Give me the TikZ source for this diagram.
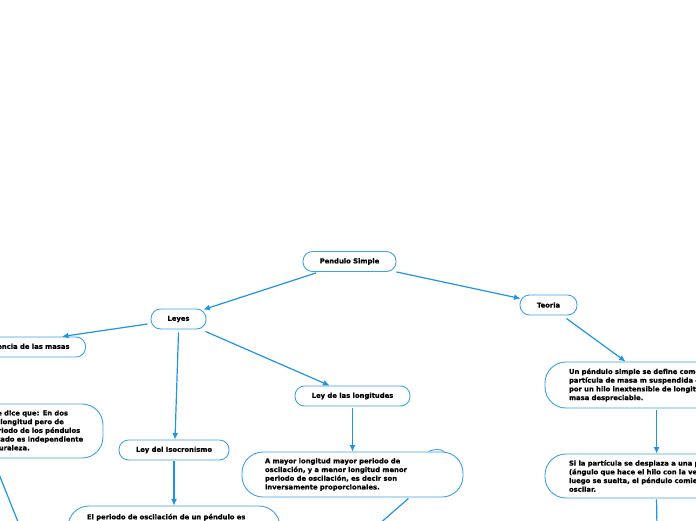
\documentclass[tikz,border=0pt]{standalone}
\usepackage{fontspec}
\setmainfont{DejaVu Sans}[BoldFeatures={FakeBold=0.6}]
\usetikzlibrary{arrows.meta,calc}
\definecolor{lineblue}{RGB}{30,148,228}
\definecolor{boxblue}{RGB}{62,160,232}
\begin{document}
\begin{tikzpicture}[x=1pt,y=-1pt,
  every node/.style={font=\fontsize{6.8}{8.7}\selectfont\bfseries},
  pill/.style={draw=boxblue,line width=0.9pt,rounded corners=9.5pt,fill=white,minimum height=20pt,inner ysep=0pt},
  bigpill/.style={draw=boxblue,line width=0.9pt,rounded corners=21pt,fill=white,align=left,inner ysep=0pt},
  conn/.style={draw=lineblue,line width=1.2pt,-{Latex[length=6.5pt,width=6pt]}},
  plainconn/.style={draw=lineblue,line width=1.2pt}]
\useasboundingbox (0,0) rectangle (696,520);
\clip (0,0) rectangle (696,520);
% small nodes
\node[pill,minimum width=93pt] (pend) at (349.5,261.5) {Pendulo Simple};
\node[pill,minimum width=57pt] (teoria) at (548.5,305) {Teoria};
\node[pill,minimum width=55pt] (leyes) at (178.5,319) {Leyes};
\node[pill,anchor=east,inner xsep=16pt] (masas) at (86,347) {Ley de la independencia de las masas};
\node[pill,minimum width=110pt] (iso) at (174,450) {Ley del Isocronismo};
\node[pill,minimum width=115pt] (longi) at (352.5,396) {Ley de las longitudes};
% big nodes
\node[bigpill,minimum height=45pt,inner xsep=23pt,text width=175pt] (longans) at (352.5,474.5)
  {A mayor longitud mayor periodo de\\oscilación, y a menor longitud menor\\periodo de oscilación, es decir son\\inversamente proporcionales.};
\node[bigpill,minimum height=40pt,inner xsep=19pt,text width=174pt] (isoans) at (174,526)
  {El periodo de oscilación de un péndulo es\\independiente de la amplitud, siempre que\\esta sea pequeña.};
\node[bigpill,minimum height=54pt,inner xsep=20pt,text width=149pt] (masasans) at (8.5,431)
  {\mbox{\hspace{-4pt}La ley de masas se dice que: En dos}\\\mbox{\hspace{-4pt}péndulos de igual longitud pero de}\\\mbox{otra masa, su periodo de los péndulos}\\\mbox{es igual, el resultado es independiente}\\\mbox{de su masa y naturaleza.}};
\node[bigpill,minimum height=46pt,inner xsep=24pt,text width=190pt] (teo1) at (664,385)
  {Un péndulo simple se define como una\\partícula de masa m suspendida del punto O\\por un hilo inextensible de longitud l y de\\masa despreciable.};
\node[bigpill,minimum height=44pt,inner xsep=24pt,text width=190pt] (teo2) at (664,476)
  {Si la partícula se desplaza a una posición θ\textsubscript{0}\\(ángulo que hace el hilo con la vertical) y\\luego se suelta, el péndulo comienza a\\oscilar.};
% connectors
\draw[conn] ($(pend.south)+(-33.5,1)$) -- ($(leyes.north east)+(-3,1)$);
\draw[conn] (pend.south east) -- ($(teoria.north west)+(1,4)$);
\draw[conn] ($(leyes.west)+(-3,5)$) -- ($(masas.north east)+(-24,0)$);
\draw[conn] ($(leyes.south)+(0,3)$) -- ($(iso.north)+(1,0)$);
\draw[conn] ($(leyes.south east)+(-1,2)$) -- ($(longi.north west)+(35,0)$);
\draw[conn] ($(teoria.south east)+(-11,3)$) -- ($(teo1.north west)+(81,0)$);
\draw[conn] ($(teo1.south west)+(112,2)$) -- ($(teo2.north west)+(112,0)$);
\draw[conn] ($(iso.south)+(0,1)$) -- (isoans.north);
\draw[conn] ($(longi.south)+(0,2)$) -- (longans.north);
\draw[conn] ($(masas.south)+(-2,2)$) -- ($(masasans.north west)+(84,0)$);
\coordinate (d1) at (30,552);
\coordinate (d2) at (370,532);
\coordinate (d3) at (657,530);
\draw[plainconn] ($(masasans.south west)+(80,2)$) -- (d1);
\draw[plainconn] ($(longans.south east)+(-55,1)$) -- (d2);
\draw[plainconn] ($(teo2.south west)+(112,1)$) -- (d3);
\draw[draw=boxblue,line width=0.9pt] ($(longans.north east)+(-35,0)$) .. controls ($(longans.north east)+(-30,-2.5)$) and ($(longans.north east)+(-23,-3)$) .. ($(longans.north east)+(-19,0)$);
\end{tikzpicture}
\end{document}
